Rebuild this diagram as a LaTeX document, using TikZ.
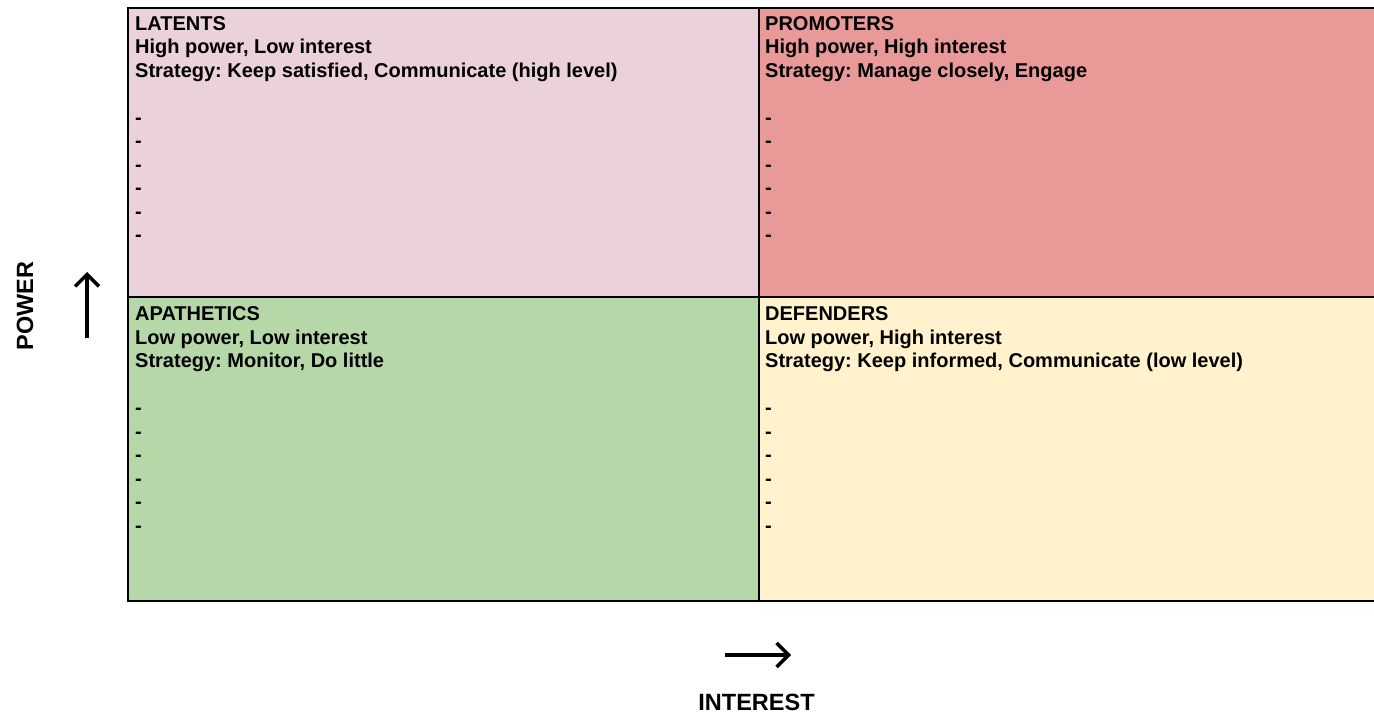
\documentclass[tikz,border=0pt]{standalone}
\usepackage{fontspec}
\setmainfont{Liberation Sans}[BoldFont={Liberation Sans Bold}]
\usetikzlibrary{arrows.meta}
\definecolor{latentfill}{HTML}{EAD1DC}
\definecolor{promoterfill}{HTML}{EA9999}
\definecolor{apathfill}{HTML}{B6D7A8}
\definecolor{defendfill}{HTML}{FFF2CC}
\tikzset{
  quad/.style={draw=black, line width=1.4pt},
  quadtext/.style={anchor=north west, inner sep=0pt, align=left,
    font=\fontsize{20}{23.5}\selectfont\bfseries\frenchspacing},
  axislabel/.style={inner sep=0pt, font=\fontsize{23.5}{26}\selectfont\bfseries},
  axisarrow/.style={line width=3.6pt,
    -{Straight Barb[length=12pt, width=24pt, line width=3.4pt]}}
}
\begin{document}
\begin{tikzpicture}[x=1pt, y=-1pt]
  \useasboundingbox (0,0) rectangle (1374,714);
  \clip (0,0) rectangle (1374,714);

  % four quadrants of the power / interest grid
  \fill[latentfill]   (128,8)   rectangle (759,297);
  \fill[promoterfill] (759,8)   rectangle (1380,297);
  \fill[apathfill]    (128,297) rectangle (759,601);
  \fill[defendfill]   (759,297) rectangle (1380,601);
  \draw[quad] (128,8) rectangle (1380,601);
  \draw[quad] (759,8) -- (759,601);
  \draw[quad] (128,297) -- (1380,297);

  % quadrant texts
  \node[quadtext] (latents) at (135,16.3) {LATENTS\\High power, Low interest\\Strategy: Keep satisfied, Communicate (high level)\\[23.5pt]-\\-\\-\\-\\-\\-};
  \node[quadtext] (promoters) at (765,16.3) {PROMOTERS\\High power, High interest\\Strategy: Manage closely, Engage\\[23.5pt]-\\-\\-\\-\\-\\-};
  \node[quadtext] (apathetics) at (135,306.5) {APATHETICS\\Low power, Low interest\\Strategy: Monitor, Do little\\[23.5pt]-\\-\\-\\-\\-\\-};
  \node[quadtext] (defenders) at (765,306.5) {DEFENDERS\\Low power, High interest\\Strategy: Keep informed, Communicate (low level)\\[23.5pt]-\\-\\-\\-\\-\\-};

  % axes
  \node[axislabel, rotate=90] (power) at (25,306) {POWER};
  \coordinate (powtail) at (87,338);
  \coordinate (powhead) at (87,272);
  \draw[axisarrow] (powtail) -- (powhead);

  \node[axislabel, anchor=base] (interest) at (756.5,710) {INTEREST};
  \coordinate (inttail) at (725,655);
  \coordinate (inthead) at (791,655);
  \draw[axisarrow] (inttail) -- (inthead);
\end{tikzpicture}
\end{document}
